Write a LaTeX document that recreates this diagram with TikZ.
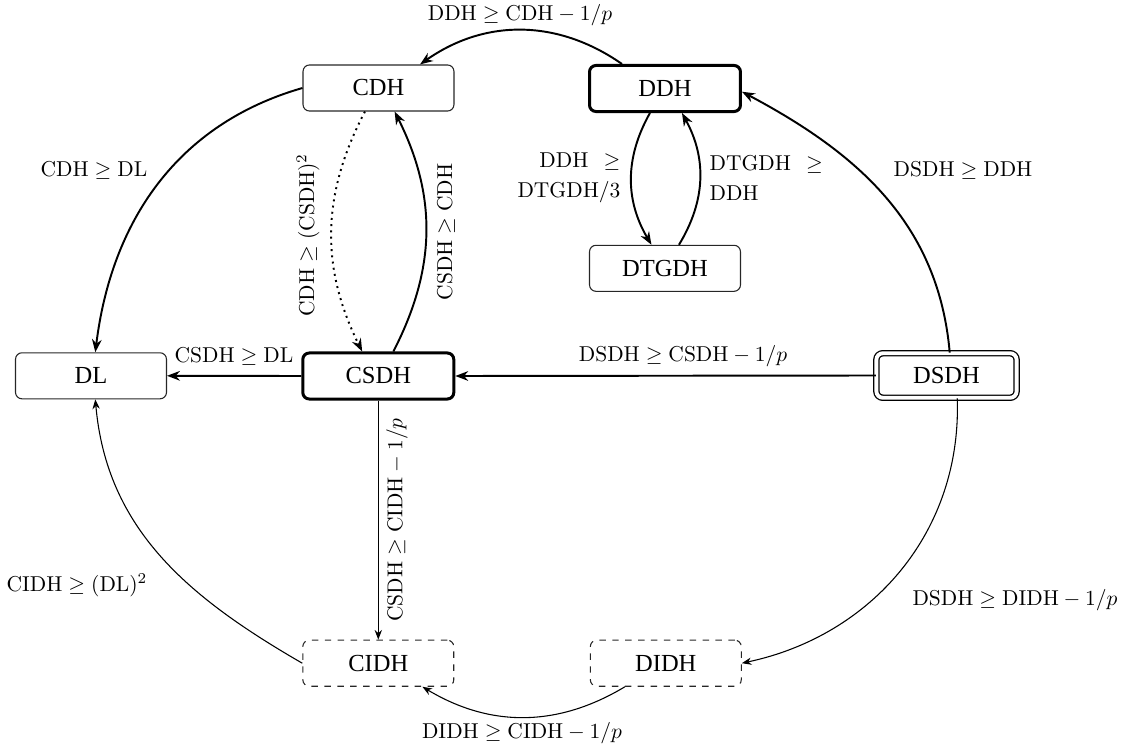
\documentclass[tikz,border=0pt]{standalone}
\usepackage{fontspec}
\newfontfamily\nodefont{Liberation Serif}
\usetikzlibrary{arrows.meta}
\begin{document}
\begin{tikzpicture}[x=0.465pt,y=0.465pt,
  box/.style={draw=black!85, line width=0.5pt, rounded corners=3pt,
    minimum width=70.2pt, minimum height=21.4pt, inner sep=0pt,
    font=\nodefont\fontsize{11.4}{13}\selectfont},
  thickbox/.style={box, draw=black, line width=1.4pt},
  dashbox/.style={box, dashed},
  doublebox/.style={box, draw=black, double, double distance=1.8pt, line width=0.6pt,
    minimum width=65.2pt, minimum height=20.7pt},
  thickarr/.style={-{Stealth[length=6pt,width=4.5pt]}, line width=0.9pt},
  thinarr/.style={-{Stealth[length=4.5pt,width=3.4pt]}, line width=0.5pt},
  lbl/.style={font=\fontsize{10}{14}\selectfont, inner sep=1pt}]
\useasboundingbox (0,0) rectangle (1122,-749);

% nodes
\node[box] (CDH) at (378.5,-88) {CDH};
\node[thickbox] (DDH) at (665,-88.5) {DDH};
\node[box] (DTGDH) at (665,-268.3) {DTGDH};
\node[box] (DL) at (91,-375.8) {DL};
\node[thickbox] (CSDH) at (378.3,-376) {CSDH};
\node[doublebox] (DSDH) at (946.5,-375.5) {DSDH};
\node[dashbox] (CIDH) at (378.3,-663.2) {CIDH};
\node[dashbox] (DIDH) at (665.8,-663.2) {DIDH};

% connectors
\draw[thickarr] ([xshift=-20pt]DDH.north) to[bend right=35] ([xshift=19.3pt]CDH.north);
\draw[thickarr] (CDH.west) to[out=196,in=83] ([xshift=2pt]DL.north);
\draw[thickarr, dotted] ([xshift=-6.3pt]CDH.south) to[bend right=27] ([xshift=-7.5pt]CSDH.north);
\draw[thickarr] ([xshift=7pt]CSDH.north) to[bend right=27] ([xshift=7.5pt]CDH.south);
\draw[thickarr] ([xshift=-7pt]DDH.south) to[bend right=30] ([xshift=-6.3pt]DTGDH.north);
\draw[thickarr] ([xshift=6.5pt]DTGDH.north) to[bend right=30] ([xshift=7.9pt]DDH.south);
\draw[thickarr] ([xshift=1.5pt]DSDH.north) to[out=95,in=-28] ([yshift=-1.5pt]DDH.east);
\draw[thickarr] (DSDH.west) -- (CSDH.east);
\draw[thickarr] (CSDH.west) -- (DL.east);
\draw[thinarr] (CSDH.south) -- (CIDH.north);
\draw[thinarr] ([xshift=5pt]DSDH.south) to[out=-88,in=12] (DIDH.east);
\draw[thinarr] ([xshift=-19pt]DIDH.south) to[bend left=31] ([xshift=20.5pt]CIDH.south);
\draw[thinarr] (CIDH.west) to[out=150,in=-85] ([xshift=2pt]DL.south);

% labels
\node[lbl] (l1) at (520,-15) {$\mathrm{DDH} \geq \mathrm{CDH} - 1/p$};
\node[lbl] (l2) at (94,-170) {$\mathrm{CDH} \geq \mathrm{DL}$};
\node[lbl, rotate=90] (l3) at (308,-235) {$\mathrm{CDH} \geq (\mathrm{CSDH})^2$};
\node[lbl, rotate=90] (l4) at (446,-232) {$\mathrm{CSDH} \geq \mathrm{CDH}$};
\node[lbl, align=right, anchor=east] (l5) at (623,-178) {$\mathrm{DDH}\hskip4.3pt\geq$\\$\mathrm{DTGDH}/3$};
\node[lbl, align=left, anchor=west] (l6) at (707,-178) {$\mathrm{DTGDH}\hskip4.3pt\geq$\\$\mathrm{DDH}$};
\node[lbl] (l7) at (963,-170) {$\mathrm{DSDH} \geq \mathrm{DDH}$};
\node[lbl] (l8) at (234,-356) {$\mathrm{CSDH} \geq \mathrm{DL}$};
\node[lbl] (l9) at (683,-356) {$\mathrm{DSDH} \geq \mathrm{CSDH} - 1/p$};
\node[lbl, rotate=90] (l10) at (397,-520) {$\mathrm{CSDH} \geq \mathrm{CIDH} - 1/p$};
\node[lbl] (l11) at (1015,-600) {$\mathrm{DSDH} \geq \mathrm{DIDH} - 1/p$};
\node[lbl] (l12) at (522,-733) {$\mathrm{DIDH} \geq \mathrm{CIDH} - 1/p$};
\node[lbl] (l13) at (77,-585) {$\mathrm{CIDH} \geq (\mathrm{DL})^2$};
\end{tikzpicture}
\end{document}
